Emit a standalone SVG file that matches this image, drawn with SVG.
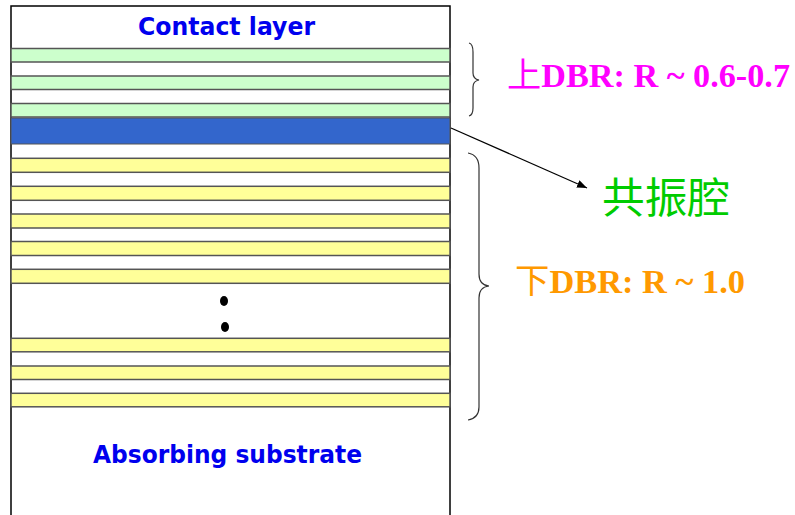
<svg xmlns="http://www.w3.org/2000/svg" width="795" height="515" viewBox="0 0 795 515">
<defs>
<style>
.layer{stroke:#555;stroke-width:1.5}
.g{fill:#CCFFCC}
.y{fill:#FFFF99}
.lbl{font-family:"DejaVu Sans",Verdana,sans-serif;font-weight:bold;fill:#0000EE;font-size:24px}
.brace{fill:none;stroke:#333;stroke-width:1.2}
.dbr{font-family:"Liberation Serif","Noto Sans CJK SC",serif;font-weight:bold;font-size:34px}
.cjk{font-family:"Noto Sans CJK SC",sans-serif;font-weight:normal}
</style>
<marker id="ah" markerWidth="10" markerHeight="8" refX="10" refY="4" orient="auto" markerUnits="userSpaceOnUse">
<path d="M0,0 L10,4 L0,8 Z" fill="#000"/>
</marker>
</defs>
<rect width="795" height="515" fill="#fff"/>
<g id="stack">
<rect x="11" y="6" width="439" height="520" fill="#fff" stroke="#000" stroke-width="1.5"/>
<g id="top-dbr">
<rect class="layer g" x="11" y="48.5" width="439" height="13.5"/>
<rect class="layer g" x="11" y="76" width="439" height="13.5"/>
<rect class="layer g" x="11" y="103.5" width="439" height="13.5"/>
</g>
<rect id="cavity" x="11" y="118" width="439" height="26" fill="#3366CC" stroke="#555" stroke-width="1"/>
<g id="bottom-dbr">
<rect class="layer y" x="11" y="158.3" width="439" height="14"/>
<rect class="layer y" x="11" y="186.3" width="439" height="14"/>
<rect class="layer y" x="11" y="214" width="439" height="14"/>
<rect class="layer y" x="11" y="241.5" width="439" height="14"/>
<rect class="layer y" x="11" y="269.3" width="439" height="14"/>
<ellipse cx="224" cy="301" rx="4" ry="5" fill="#000"/>
<ellipse cx="225" cy="327" rx="4" ry="5" fill="#000"/>
<rect class="layer y" x="11" y="338.3" width="439" height="13.5"/>
<rect class="layer y" x="11" y="366" width="439" height="13.5"/>
<rect class="layer y" x="11" y="393.3" width="439" height="13.5"/>
</g>
<text class="lbl" x="226.5" y="35" text-anchor="middle" textLength="177" lengthAdjust="spacingAndGlyphs">Contact layer</text>
<text class="lbl" x="227.5" y="463" text-anchor="middle" textLength="269" lengthAdjust="spacingAndGlyphs">Absorbing substrate</text>
</g>
<g id="braces">
<path class="brace" d="M469,43 Q473,44 473,52 L473,73 Q473,79 479,80 Q473,81 473,87 L473,108 Q473,115 469,116"/>
<path class="brace" d="M468,153 Q479,155 479,168 L479,274 Q479,285 489,286 Q479,287 479,298 L479,407 Q479,418 468,420"/>
</g>
<g id="connectors">
<line x1="451" y1="128" x2="587" y2="188" stroke="#000" stroke-width="1.2" marker-end="url(#ah)"/>
</g>
<g id="labels">
<text class="dbr" x="507" y="87" fill="#FF00FF" textLength="283" lengthAdjust="spacingAndGlyphs"><tspan class="cjk">上</tspan>DBR: R ~ 0.6-0.7</text>
<text x="602" y="213" fill="#00CC00" font-family="'Noto Sans CJK SC',sans-serif" font-size="42" textLength="128" lengthAdjust="spacingAndGlyphs">共振腔</text>
<text class="dbr" x="515" y="293" fill="#FF9900" textLength="230" lengthAdjust="spacingAndGlyphs"><tspan class="cjk">下</tspan>DBR: R ~ 1.0</text>
</g>
</svg>
